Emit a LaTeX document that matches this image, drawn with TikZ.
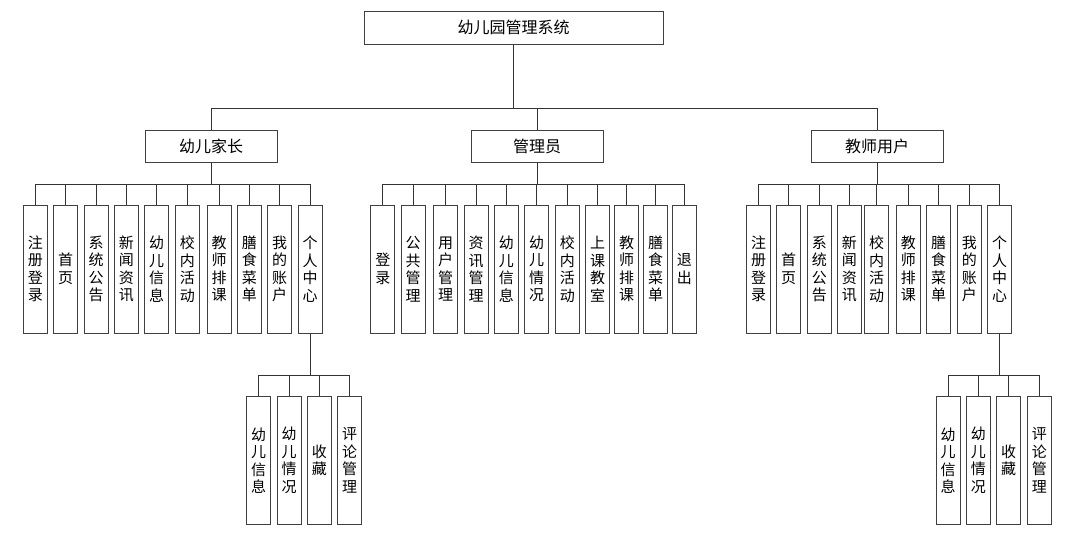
\documentclass[tikz,border=0pt]{standalone}
\usepackage{fontspec}
\newfontfamily\cjk{Noto Sans CJK SC}

\begin{document}
\begin{tikzpicture}[
  x=1pt,
  y=-1pt,
  font=\cjk,
  line width=1pt,
  box/.style={draw=black!75, fill=white, inner sep=0pt},
  topbox/.style={box, minimum width=299, minimum height=33, font=\cjk\fontsize{16}{18}\selectfont},
  rolebox/.style={box, minimum width=132, minimum height=32, font=\cjk\fontsize{16}{18}\selectfont},
  leaf/.style={box, minimum width=24, minimum height=128, align=center, font=\cjk\fontsize{15}{17.5}\selectfont},
  link/.style={draw=black!80}
]

% White background
\fill[white] (0,0) rectangle (1074,542);
\useasboundingbox (0,0) rectangle (1074,542);

% Bus levels
\coordinate (bus0) at (0,108);
\coordinate (bus1) at (0,184.5);
\coordinate (bus2) at (0,375);

% Root and roles
\node[topbox] (sys) at (513.5,27.5) {幼儿园管理系统};
\node[rolebox] (parent) at (211,146) {幼儿家长};
\node[rolebox] (admin) at (537,146) {管理员};
\node[rolebox] (teacher) at (877,146) {教师用户};

\foreach \r in {parent,admin,teacher} {
  \draw[link] (sys.south) |- (bus0 -| \r.north) -- (\r.north);
}

% Parent functions
\foreach \x/\lbl [count=\i] in {35.3/{注\\册\\登\\录},65.7/{首\\页},96/{系\\统\\公\\告},126.3/{新\\闻\\资\\讯},
  156.7/{幼\\儿\\信\\息},187.3/{校\\内\\活\\动},219/{教\\师\\排\\课},249.3/{膳\\食\\菜\\单},
  279.7/{我\\的\\账\\户},310/{个\\人\\中\\心}} {
  \node[leaf] (p\i) at (\x,269) {\lbl};
  \draw[link] (parent.south) |- (bus1 -| p\i.north) -- (p\i.north);
}

% Admin functions
\foreach \x/\lbl [count=\i] in {382.8/{登\\录},413.2/{公\\共\\管\\理},445.7/{用\\户\\管\\理},476/{资\\讯\\管\\理},
  506.3/{幼\\儿\\信\\息},536.7/{幼\\儿\\情\\况},567.3/{校\\内\\活\\动},597.7/{上\\课\\教\\室},
  626.7/{教\\师\\排\\课},655.7/{膳\\食\\菜\\单},684.3/{退\\出}} {
  \node[leaf] (a\i) at (\x,269) {\lbl};
  \draw[link] (admin.south) |- (bus1 -| a\i.north) -- (a\i.north);
}

% Teacher functions
\foreach \x/\lbl [count=\i] in {758.5/{注\\册\\登\\录},788.7/{首\\页},819.3/{系\\统\\公\\告},849.3/{新\\闻\\资\\讯},
  876.7/{校\\内\\活\\动},908.3/{教\\师\\排\\课},938.7/{膳\\食\\菜\\单},969.3/{我\\的\\账\\户},
  999.7/{个\\人\\中\\心}} {
  \node[leaf] (t\i) at (\x,269) {\lbl};
  \draw[link] (teacher.south) |- (bus1 -| t\i.north) -- (t\i.north);
}

% Personal centre entries
\foreach \x/\y/\lbl [count=\i] in {258.5/948.2/{幼\\儿\\信\\息},289/978.3/{幼\\儿\\情\\况},
  319.3/1008.7/{收\\藏},349.7/1039.3/{评\\论\\管\\理}} {
  \node[leaf] (pc\i) at (\x,460.5) {\lbl};
  \node[leaf] (tc\i) at (\y,460.5) {\lbl};
  \draw[link] (p10.south) |- (bus2 -| pc\i.north) -- (pc\i.north);
  \draw[link] (t9.south) |- (bus2 -| tc\i.north) -- (tc\i.north);
}

\end{tikzpicture}
\end{document}
